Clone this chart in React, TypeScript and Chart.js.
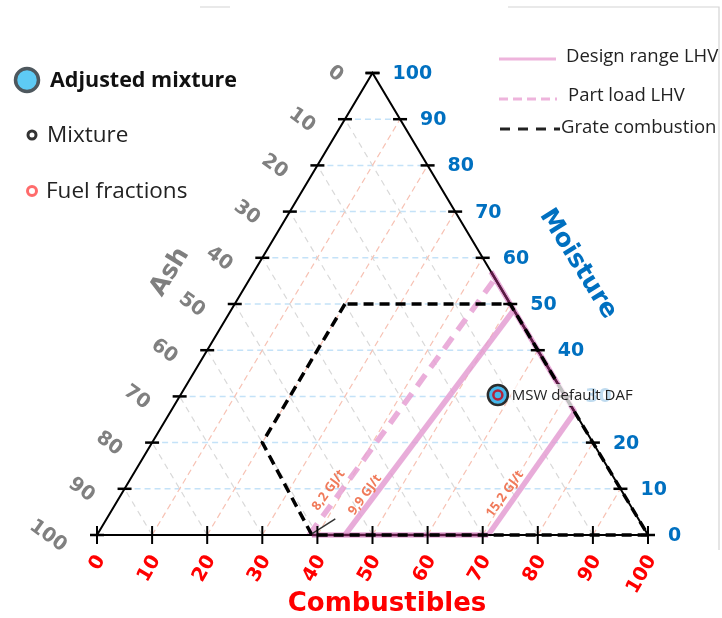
import React, { useEffect, useRef } from "react";
import { Chart, registerables } from "chart.js";

Chart.register(...registerables);

// ---- data (ternary: C = combustibles %, M = moisture %, Ash = 100 - C - M) ----
const gridValues = [10, 20, 30, 40, 50, 60, 70, 80, 90];
const axisTicks = [0, 10, 20, 30, 40, 50, 60, 70, 80, 90, 100];
const tickLabels = ["0", "10", "20", "30", "40", "50", "60", "70", "80", "90", "100"];

const designLowC = [45, 51.3];
const designLowM = [0, 48.7];
const designHighC = [71, 73.4];
const designHighM = [0, 26.6];
const designBottomC = [39, 71];
const designBottomM = [0, 0];
const designEdgeC = [73.4, 43];
const designEdgeM = [26.6, 57];

const partLoadC = [38.5, 44.5];
const partLoadM = [0, 55.5];

const grateC = [20, 20, 39, 100, 50, 20];
const grateM = [50, 20, 0, 0, 50, 50];

const pointerC = [38.9, 41.5];
const pointerM = [0.3, 3.5];

const mswC = [57.6];
const mswM = [30.3];
const mswLabel = "MSW default DAF";

const lhvLabels = ["8,2 GJ/t", "9,9 GJ/t", "15,2 GJ/t"];
const lhvLabelC = [37.2, 44.3, 69.6];
const lhvLabelM = [9.7, 8.7, 8.9];

const FONT = "'Open Sans', 'Noto Sans', sans-serif";
const AXFONT = "'DejaVu Sans', Verdana, sans-serif";

const tern = (c: number, m: number) => ({ x: c + m / 2, y: m });
const pts = (cs: number[], ms: number[]) => cs.map((c, i) => tern(c, ms[i]));

function lineDs(data: { x: number; y: number }[], color: string, width: number, dash: number[] = []) {
  return {
    data,
    showLine: true,
    borderColor: color,
    backgroundColor: color,
    borderWidth: width,
    borderDash: dash,
    pointRadius: 0,
    pointHoverRadius: 0,
    fill: false,
    tension: 0,
    borderCapStyle: "butt",
  };
}

const overlayPlugin = {
  id: "ternaryOverlay",
  afterDatasetsDraw(chart: any) {
    const ctx: CanvasRenderingContext2D = chart.ctx;
    const xs = chart.scales.x;
    const ys = chart.scales.y;
    const P = (c: number, m: number) => [xs.getPixelForValue(c + m / 2), ys.getPixelForValue(m)];

    ctx.save();
    // frame lines
    ctx.strokeStyle = "#d4d4d4";
    ctx.lineWidth = 1.2;
    ctx.beginPath();
    ctx.moveTo(200, 7); ctx.lineTo(230, 7);
    ctx.moveTo(508, 7); ctx.lineTo(719, 7); ctx.lineTo(719, 550);
    ctx.stroke();

    // ticks
    ctx.strokeStyle = "#000";
    ctx.lineWidth = 2.5;
    axisTicks.forEach((v) => {
      let [x, y] = P(0, 100 - v);
      ctx.beginPath(); ctx.moveTo(x - 7, y); ctx.lineTo(x + 7, y); ctx.stroke();
      [x, y] = P(100 - v, v);
      ctx.beginPath(); ctx.moveTo(x - 7, y); ctx.lineTo(x + 7, y); ctx.stroke();
    });
    ctx.lineWidth = 2;
    axisTicks.forEach((v) => {
      const [x, y] = P(v, 0);
      ctx.beginPath(); ctx.moveTo(x, y - 9); ctx.lineTo(x, y + 9); ctx.stroke();
    });

    // Ash labels
    ctx.fillStyle = "#808080";
    ctx.font = `bold 19.5px ${AXFONT}`;
    ctx.textAlign = "center";
    ctx.textBaseline = "middle";
    axisTicks.forEach((v, i) => {
      const [x, y] = P(0, 100 - v);
      const t = tickLabels[i];
      ctx.save();
      ctx.translate(x - (31 + 6 * t.length), y + 1);
      ctx.rotate((36 * Math.PI) / 180);
      ctx.fillText(t, 0, 0);
      ctx.restore();
    });

    // Moisture labels
    ctx.fillStyle = "#0070c0";
    ctx.font = `bold 19px ${AXFONT}`;
    ctx.textAlign = "left";
    axisTicks.forEach((v, i) => {
      const [x, y] = P(100 - v, v);
      ctx.fillText(tickLabels[i], x + 20, y + 1);
    });

    // Combustibles labels
    ctx.fillStyle = "#ff0000";
    ctx.font = `bold 19.5px ${AXFONT}`;
    ctx.textAlign = "right";
    axisTicks.forEach((v, i) => {
      const [x, y] = P(v, 0);
      ctx.save();
      ctx.translate(x + 4, y + 22);
      ctx.rotate((-60 * Math.PI) / 180);
      ctx.fillText(tickLabels[i], 0, 0);
      ctx.restore();
    });

    // axis titles
    ctx.textAlign = "center";
    ctx.fillStyle = "#7f7f7f";
    ctx.font = `bold 25px ${AXFONT}`;
    ctx.save(); ctx.translate(170, 272); ctx.rotate((-58 * Math.PI) / 180); ctx.fillText("Ash", 0, 0); ctx.restore();
    ctx.fillStyle = "#0070c0";
    ctx.save(); ctx.translate(578, 264); ctx.rotate((58 * Math.PI) / 180); ctx.fillText("Moisture", 0, 0); ctx.restore();
    ctx.fillStyle = "#ff0000";
    ctx.font = `bold 26px ${AXFONT}`;
    ctx.fillText("Combustibles", 387, 604);

    // LHV labels
    ctx.fillStyle = "#f07a5a";
    ctx.font = `bold 13px ${FONT}`;
    lhvLabels.forEach((t, i) => {
      const [x, y] = P(lhvLabelC[i], lhvLabelM[i]);
      ctx.save(); ctx.translate(x, y); ctx.rotate((-54 * Math.PI) / 180); ctx.fillText(t, 0, 0); ctx.restore();
    });

    // MSW label with translucent box
    {
      const [x, y] = P(mswC[0], mswM[0]);
      ctx.font = `15px ${FONT}`;
      const w = ctx.measureText(mswLabel).width;
      ctx.fillStyle = "rgba(255,255,255,0.75)";
      ctx.fillRect(x + 13, y - 11, w + 4, 22);
      ctx.fillStyle = "#222";
      ctx.textAlign = "left";
      ctx.fillText(mswLabel, x + 14, y + 1);
    }

    // left legend
    ctx.textAlign = "left";
    ctx.beginPath(); ctx.arc(27, 80, 11.5, 0, Math.PI * 2);
    ctx.fillStyle = "#5ecbf5"; ctx.fill();
    ctx.lineWidth = 3.5; ctx.strokeStyle = "#4e585e"; ctx.stroke();
    ctx.fillStyle = "#111";
    ctx.font = `bold 21.5px ${FONT}`;
    ctx.fillText("Adjusted mixture", 50, 81);
    ctx.beginPath(); ctx.arc(32, 135, 4, 0, Math.PI * 2);
    ctx.fillStyle = "#fff"; ctx.fill();
    ctx.lineWidth = 3; ctx.strokeStyle = "#333"; ctx.stroke();
    ctx.fillStyle = "#222";
    ctx.font = `22.5px ${FONT}`;
    ctx.fillText("Mixture", 47, 136);
    ctx.beginPath(); ctx.arc(32, 191, 4.5, 0, Math.PI * 2);
    ctx.fillStyle = "#fff"; ctx.fill();
    ctx.lineWidth = 3; ctx.strokeStyle = "#ff6b6b"; ctx.stroke();
    ctx.fillStyle = "#222";
    ctx.fillText("Fuel fractions", 46, 192);

    // right legend
    ctx.font = `18.5px ${FONT}`;
    ctx.lineWidth = 3;
    ctx.strokeStyle = "#eeb4dc";
    ctx.setLineDash([]);
    ctx.beginPath(); ctx.moveTo(499, 59); ctx.lineTo(556, 59); ctx.stroke();
    ctx.setLineDash([9, 5]);
    ctx.beginPath(); ctx.moveTo(499, 99); ctx.lineTo(557, 99); ctx.stroke();
    ctx.strokeStyle = "#222";
    ctx.setLineDash([10, 8]);
    ctx.beginPath(); ctx.moveTo(500, 129); ctx.lineTo(560, 129); ctx.stroke();
    ctx.setLineDash([]);
    ctx.fillStyle = "#222";
    ctx.fillText("Design range LHV", 566, 57);
    ctx.fillText("Part load LHV", 568, 96);
    ctx.fillText("Grate combustion", 561, 128);

    ctx.restore();
  },
};

export default function App() {
  const ref = useRef<HTMLCanvasElement | null>(null);

  useEffect(() => {
    if (!ref.current) return;
    const layers: any[] = [];
    gridValues.forEach((v) => layers.push(lineDs([tern(0, v), tern(100 - v, v)], "#c4e2f8", 1.5, [6, 4])));
    gridValues.forEach((v) => layers.push(lineDs([tern(100 - v, 0), tern(0, 100 - v)], "#d9d9d9", 1.2, [6, 5])));
    gridValues.forEach((v) => layers.push(lineDs([tern(v, 0), tern(v, 100 - v)], "#f7c2b4", 1.2, [6, 4])));
    layers.push(lineDs(pts(partLoadC, partLoadM), "rgba(230,160,212,0.85)", 5.5, [14, 9]));
    layers.push(lineDs(pts(designLowC, designLowM), "rgba(228,158,210,0.85)", 5.5));
    layers.push(lineDs(pts(designHighC, designHighM), "rgba(228,158,210,0.85)", 5.5));
    layers.push(lineDs(pts(designBottomC, designBottomM), "rgba(228,158,210,0.85)", 5.5));
    layers.push(lineDs(pts(designEdgeC, designEdgeM), "rgba(228,158,210,0.85)", 5.5));
    layers.push(lineDs([tern(0, 0), tern(100, 0), tern(0, 100), tern(0, 0)], "#000", 2));
    layers.push(lineDs(pts(designBottomC, designBottomM), "#5c1a44", 2.5));
    layers.push(lineDs(pts(designEdgeC, designEdgeM), "#5c1a44", 2.5));
    layers.push(lineDs(pts(grateC, grateM), "#000", 3.5, [10, 6]));
    layers.push(lineDs(pts(pointerC, pointerM), "#333", 1.5));
    layers.push({
      data: pts(mswC, mswM),
      pointRadius: 10,
      pointBackgroundColor: "#45b8ec",
      pointBorderColor: "#2c2c2c",
      pointBorderWidth: 2.5,
      showLine: false,
    });
    layers.push({
      data: pts(mswC, mswM),
      pointRadius: 4.5,
      pointBackgroundColor: "#45b8ec",
      pointBorderColor: "#b3243c",
      pointBorderWidth: 2.5,
      showLine: false,
    });
    const datasets = layers.reverse();

    const chart = new Chart(ref.current, {
      type: "scatter",
      data: { datasets },
      options: {
        animation: false,
        responsive: false,
        events: [],
        layout: { padding: 0, autoPadding: false },
        plugins: { legend: { display: false }, tooltip: { enabled: false } },
        scales: {
          x: { type: "linear", min: -97 / 5.51, max: (722 - 97) / 5.51, display: false },
          y: { type: "linear", min: -(618 - 535) / 4.62, max: 535 / 4.62, display: false },
        },
      },
      plugins: [overlayPlugin],
    } as any);
    return () => chart.destroy();
  }, []);

  return (
    <div style={{ position: "absolute", left: 0, top: 0, width: 722, height: 618, background: "#fff" }}>
      <canvas ref={ref} width={722} height={618} style={{ display: "block" }} />
    </div>
  );
}
